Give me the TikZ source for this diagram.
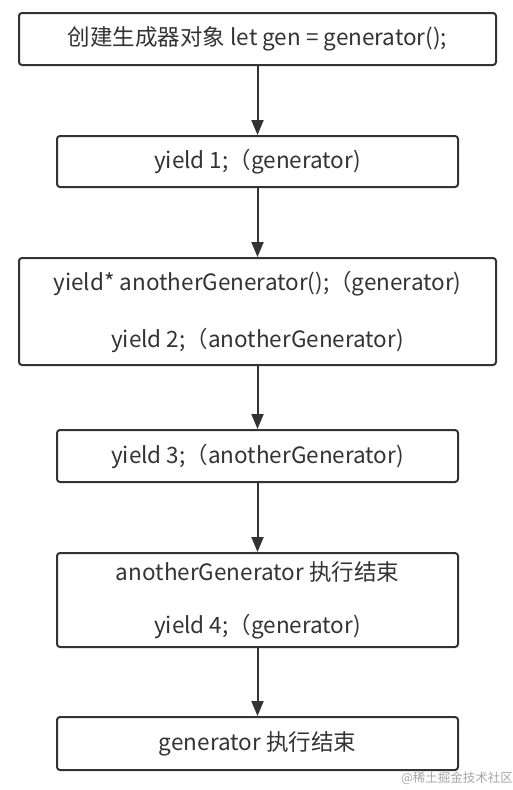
\documentclass[tikz,border=0pt]{standalone}
\usepackage{fontspec}
\setmainfont{Noto Sans CJK SC}
\usetikzlibrary{positioning}
\usetikzlibrary{arrows.meta}

\definecolor{ink}{HTML}{333333}

\tikzset{
  box/.style={draw=ink, line width=2pt, rounded corners=3pt, text=ink,
    inner sep=0pt, align=center},
  wide/.style={box, minimum width=477pt},
  narrow/.style={box, minimum width=401pt},
  flow/.style={draw=ink, line width=2pt, -{Triangle[length=15pt, width=12pt]}}
}

\begin{document}
\begin{tikzpicture}[x=1pt, y=-1pt, node distance=69pt,
    font=\fontsize{22.5}{27}\selectfont]
			\useasboundingbox (0,0) rectangle (512,790);
			
			\node[wide, minimum height=52pt] (create) at (257.5,39) {创建生成器对象 let gen = generator();};
			\node[narrow, minimum height=51pt, below=of create] (yone) {yield 1;（generator)};
			\node[wide, minimum height=107pt, below=of yone] (delegate)
			  {yield* anotherGenerator();（generator)\\[30pt] yield 2;（anotherGenerator)};
			\node[narrow, minimum height=52pt, below=63pt of delegate] (ythree) {yield 3;（anotherGenerator)};
			\node[narrow, minimum height=94pt, below=of ythree] (innerend)
			  {anotherGenerator 执行结束\\[26pt] yield 4;（generator)};
			\node[narrow, minimum height=53pt, below=68pt of innerend] (outerend) {generator 执行结束};
			
			\node[text=black!35, font=\fontsize{12.5}{14}\selectfont] (mark) at (457,778) {@稀土掘金技术社区};
			
			\draw[flow] (create) -- (yone);
			\draw[flow] (yone) -- (delegate);
			\draw[flow] (delegate) -- (ythree);
			\draw[flow] (ythree) -- (innerend);
			\draw[flow] (innerend) -- (outerend);
		\end{tikzpicture}
\end{document}
